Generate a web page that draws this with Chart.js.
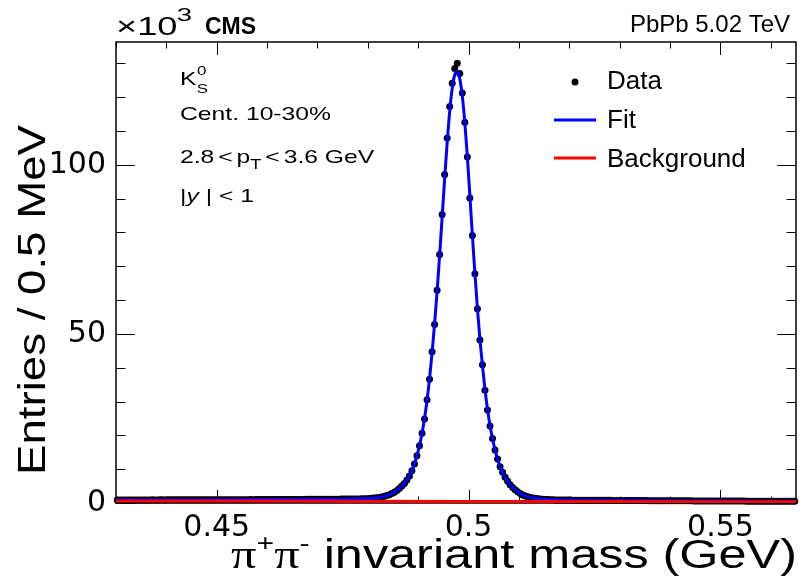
<!DOCTYPE html>
<html><head><meta charset="utf-8">
<script src="https://cdn.jsdelivr.net/npm/chart.js@4.4.0/dist/chart.umd.min.js"></script>
<style>html,body{margin:0;padding:0;background:#fff}#wrap{width:804px;height:580px}</style>
</head><body><div id="wrap"><canvas id="c" width="804" height="580"></canvas></div>
<script>
// ---- data (y in thousands of entries per 0.5 MeV bin) ----
const massMin = 0.43, massMax = 0.565, binWidth = 0.0005;
const counts = [
0.90,0.90,0.91,0.90,0.91,0.91,0.90,0.91,0.92,0.91,
0.92,0.91,0.92,0.92,0.93,0.92,0.92,0.93,0.93,0.92,
0.93,0.93,0.94,0.93,0.93,0.94,0.94,0.93,0.94,0.95,
0.94,0.95,0.95,0.94,0.95,0.96,0.95,0.96,0.96,0.95,
0.96,0.97,0.96,0.97,0.97,0.98,0.97,0.98,0.98,0.99,
0.98,0.99,0.99,1.00,0.99,1.00,1.00,1.01,1.01,1.02,
1.01,1.02,1.02,1.03,1.03,1.03,1.04,1.04,1.05,1.05,
1.05,1.06,1.06,1.07,1.07,1.08,1.08,1.09,1.09,1.10,
1.10,1.11,1.11,1.12,1.12,1.13,1.13,1.14,1.14,1.15,
1.15,1.16,1.16,1.17,1.17,1.18,1.20,1.22,1.25,1.29,
1.33,1.39,1.46,1.55,1.66,1.80,1.98,2.20,2.45,2.80,
3.2,3.7,4.3,5.0,5.8,6.8,8.0,9.5,11.5,14.0,
16.9,20.6,24.8,30.5,36.6,44.7,52.8,62.9,73.5,85.3,
97.1,107.9,117.2,124.1,128.5,130.0,127.0,121.2,112.6,102.3,
90.2,79.1,67.8,57.4,48.2,40.9,33.3,27.5,22.8,19.1,
15.7,13.0,10.7,9.1,7.6,6.4,5.4,4.6,3.9,3.3,
2.8,2.4,2.1,1.85,1.65,1.50,1.38,1.28,1.20,1.13,
1.07,1.02,0.98,0.95,0.92,0.90,0.89,0.88,0.87,0.87,
0.86,0.85,0.85,0.84,0.84,0.83,0.83,0.82,0.82,0.81,
0.81,0.80,0.80,0.79,0.79,0.78,0.78,0.77,0.77,0.76,
0.76,0.75,0.75,0.74,0.74,0.73,0.73,0.72,0.72,0.71,
0.71,0.70,0.70,0.69,0.69,0.68,0.68,0.67,0.67,0.66,
0.66,0.65,0.65,0.65,0.64,0.64,0.63,0.63,0.63,0.62,
0.62,0.61,0.61,0.61,0.60,0.60,0.60,0.59,0.59,0.59,
0.58,0.58,0.58,0.57,0.57,0.57,0.56,0.56,0.56,0.56,
0.55,0.55,0.55,0.55,0.54,0.54,0.54,0.54,0.53,0.53,
0.53,0.53,0.53,0.52,0.52,0.52,0.52,0.52,0.51,0.51];
const fitMass = [0.43,0.44,0.45,0.46,0.465,0.47,0.4725,0.475,0.4775,0.48,0.4815,0.483,0.484,0.485,0.486,0.487,
0.48775,0.48825,0.48875,0.48925,0.48975,0.49025,0.49075,0.49125,0.49175,0.49225,0.49275,0.49325,0.49375,0.49425,
0.49475,0.49525,0.49575,0.49625,0.49675,0.49725,0.49775,0.49825,0.49875,0.49925,0.49975,0.50025,0.50075,0.50125,
0.50175,0.50225,0.50275,0.50325,0.50375,0.50425,0.50475,0.50525,0.50575,0.50625,0.50675,0.50725,0.50775,
0.5085,0.5095,0.5105,0.5115,0.513,0.515,0.5175,0.52,0.525,0.53,0.54,0.55,0.565];
const fitValues = [0.90,0.92,0.95,1.01,1.05,1.10,1.12,1.15,1.18,1.31,1.50,1.89,2.32,3.0,4.0,5.4,
6.8,8.0,9.5,11.5,14.0,16.9,20.6,25.0,30.3,36.8,44.4,53.0,62.6,73.2,
84.5,96.0,106.6,115.8,122.6,126.6,127.5,125.4,120.3,112.5,102.5,91.0,79.2,68.0,
57.6,48.4,40.6,33.6,27.8,22.9,19.0,15.7,13.0,10.8,9.0,7.6,6.4,
5.0,3.6,2.6,1.98,1.50,1.14,0.93,0.87,0.81,0.76,0.66,0.585,0.51];
const bgMass = [0.43,0.45,0.475,0.5,0.525,0.55,0.565];
const bgValues = [0.62,0.58,0.53,0.48,0.43,0.38,0.35];
const xTicks = [0.45,0.5,0.55];
const xTickLabels = ['0.45','0.5','0.55'];
const yTicks = [0,50,100];
const yTickLabels = ['0','50','100'];
const yMax = 136.3;
const xMinorStep = 0.01, yMinorStep = 10;
const legendLabels = ['Data','Fit','Background'];

const SANS = '"Liberation Sans", Arial, sans-serif';
const SERIF = '"Liberation Serif", "Times New Roman", serif';

function runs(ctx, parts, x, y, opt) {
  opt = opt || {};
  const sx = opt.sx || 1;
  ctx.save();
  ctx.translate(x, y);
  if (opt.rot) ctx.rotate(opt.rot);
  ctx.scale(sx, 1);
  ctx.fillStyle = '#000';
  ctx.textBaseline = 'alphabetic';
  ctx.textAlign = 'left';
  let total = 0;
  const fonts = parts.map(p => (p.style || '') + ' ' + (p.weight || 'normal') + ' ' + p.size + 'px ' + (p.family || SANS));
  parts.forEach((p, i) => { ctx.font = fonts[i]; p._w = ctx.measureText(p.t).width; total += p._w + (p.dx || 0); });
  let cx = 0;
  if (opt.align === 'right') cx = -total;
  else if (opt.align === 'center') cx = -total / 2;
  parts.forEach((p, i) => {
    ctx.font = fonts[i];
    cx += (p.dx || 0);
    ctx.fillText(p.t, cx, p.dy || 0);
    cx += p._w;
  });
  ctx.restore();
}

const decor = {
  id: 'decor',
  beforeDatasetsDraw(chart) {
    const ctx = chart.ctx, a = chart.chartArea, xs = chart.scales.x, ys = chart.scales.y;
    ctx.save();
    ctx.strokeStyle = '#000';
    ctx.lineWidth = 1;
    for (let j = Math.ceil(massMin / xMinorStep); j * xMinorStep <= massMax + 1e-9; j++) {
      const v = j * xMinorStep;
      const major = xTicks.some(t => Math.abs(t - v) < 1e-9);
      const L = major ? 13 : 6.5;
      const px = Math.round(xs.getPixelForValue(v)) + 0.5;
      ctx.beginPath();
      ctx.moveTo(px, a.bottom); ctx.lineTo(px, a.bottom - L);
      ctx.moveTo(px, a.top); ctx.lineTo(px, a.top + L);
      ctx.stroke();
    }
    for (let j = 0; j * yMinorStep <= yMax; j++) {
      const v = j * yMinorStep;
      const major = yTicks.includes(v);
      const L = major ? 19 : 9.5;
      const py = Math.round(ys.getPixelForValue(v)) + 0.5;
      ctx.beginPath();
      ctx.moveTo(a.left, py); ctx.lineTo(a.left + L, py);
      ctx.moveTo(a.right, py); ctx.lineTo(a.right - L, py);
      ctx.stroke();
    }
    ctx.lineWidth = 1.5;
    ctx.strokeRect(a.left, a.top, a.right - a.left, a.bottom - a.top);
    ctx.restore();
  },
  afterDraw(chart) {
    const ctx = chart.ctx, a = chart.chartArea;
    // exponent and headers
    runs(ctx, [{t: '\u00d7', size: 25}, {t: '10', size: 25}, {t: '3', size: 19, dy: -14, dx: -0.5}], a.left, 35, {sx: 1.45});
    runs(ctx, [{t: 'CMS', size: 23, weight: 'bold'}], 205, 34);
    runs(ctx, [{t: 'PbPb 5.02 TeV', size: 24}], 790, 32, {align: 'right'});
    // annotations
    const A = {sx: 1.3};
    runs(ctx, [{t: 'K', size: 19}, {t: '0', size: 13, dy: -10, dx: 0.5}, {t: 'S', size: 13, dy: 8, dx: -7.5}], 180, 85, A);
    runs(ctx, [{t: 'Cent. 10-30%', size: 19}], 180, 120, A);
    runs(ctx, [{t: '2.8', size: 19}, {t: '<', size: 19, dx: 3}, {t: 'p', size: 19, dx: 3},
               {t: 'T', size: 14, dy: 6}, {t: '<', size: 19, dx: 3}, {t: '3.6 GeV', size: 19, dx: 3}], 180, 163, A);
    runs(ctx, [{t: '|', size: 19}, {t: 'y', size: 19, style: 'italic'}, {t: ' | < 1', size: 19}], 180, 202, A);
    // legend
    ctx.save();
    ctx.fillStyle = '#000';
    ctx.beginPath(); ctx.arc(575, 82, 3.5, 0, Math.PI * 2); ctx.fill();
    ctx.lineWidth = 3;
    ctx.strokeStyle = '#0000ff'; ctx.beginPath(); ctx.moveTo(554, 120); ctx.lineTo(596, 120); ctx.stroke();
    ctx.strokeStyle = '#ff0000'; ctx.beginPath(); ctx.moveTo(554, 158); ctx.lineTo(596, 158); ctx.stroke();
    ctx.restore();
    runs(ctx, [{t: legendLabels[0], size: 26}], 607, 89);
    runs(ctx, [{t: legendLabels[1], size: 26}], 607, 128);
    runs(ctx, [{t: legendLabels[2], size: 26}], 607, 167);
    // axis titles
    runs(ctx, [{t: 'Entries / 0.5 MeV', size: 39}], 45, 125, {rot: -Math.PI / 2, align: 'right', sx: 1.17});
    runs(ctx, [
      {t: '\u03c0', size: 40, family: SERIF},
      {t: '+', size: 24, dy: -17},
      {t: '\u03c0', size: 40, family: SERIF},
      {t: '-', size: 24, dy: -17},
      {t: ' invariant mass (GeV)', size: 40}
    ], 797, 568, {align: 'right', sx: 1.26});
  }
};

const dataPts = counts.map((v, i) => ({x: massMin + binWidth * (i + 0.5), y: v}));
const fitPts = fitMass.map((m, i) => ({x: m, y: fitValues[i]}));
const bgPts = bgMass.map((m, i) => ({x: m, y: bgValues[i]}));

new Chart(document.getElementById('c'), {
  type: 'scatter',
  data: {
    datasets: [
      {type: 'line', label: legendLabels[2], data: bgPts, borderColor: '#ff0000', borderWidth: 3, pointRadius: 0, fill: false, tension: 0, order: 0},
      {type: 'line', label: legendLabels[1], data: fitPts, borderColor: '#0000ff', borderWidth: 3, pointRadius: 0, fill: false, tension: 0.3, cubicInterpolationMode: 'monotone', order: 1},
      {type: 'scatter', label: legendLabels[0], data: dataPts, backgroundColor: '#000', borderWidth: 0, pointRadius: 3.5, clip: 8, order: 2}
    ]
  },
  options: {
    responsive: false,
    animation: false,
    events: [],
    layout: {padding: {left: 0, right: 8, top: 42, bottom: 0}},
    plugins: {legend: {display: false}, tooltip: {enabled: false}},
    scales: {
      x: {
        type: 'linear', min: massMin, max: massMax,
        grid: {display: false, drawTicks: false}, border: {display: false},
        afterBuildTicks: s => { s.ticks = xTicks.map(v => ({value: v})); },
        afterFit: s => { s.height = 77; },
        ticks: {color: '#000', font: {family: 'DejaVu Sans', size: 30}, padding: 7, maxRotation: 0, autoSkip: false,
          callback: (v, i) => xTickLabels[i]}
      },
      y: {
        type: 'linear', min: 0, max: yMax,
        grid: {display: false, drawTicks: false}, border: {display: false},
        afterBuildTicks: s => { s.ticks = yTicks.map(v => ({value: v})); },
        afterFit: s => { s.width = 116; },
        ticks: {color: '#000', font: {family: 'DejaVu Sans', size: 30}, padding: 10, autoSkip: false,
          callback: (v, i) => yTickLabels[i]}
      }
    }
  },
  plugins: [decor]
});
</script>
</body></html>
